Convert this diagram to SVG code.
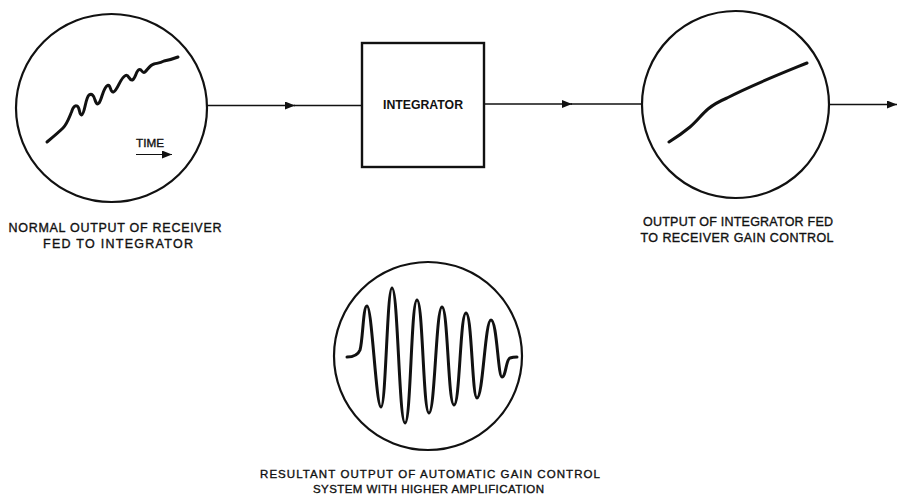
<svg xmlns="http://www.w3.org/2000/svg" width="898" height="497" viewBox="0 0 898 497">
<style>
.scope{fill:none;stroke:#111;stroke-width:2.2}
.trace{fill:none;stroke:#111;stroke-width:3;stroke-linecap:round;stroke-linejoin:round}
.conn{fill:none;stroke:#111;stroke-width:1.6}
.lbl{font-family:"Liberation Sans",Arial,sans-serif;font-size:12.5px;fill:#111;stroke:#111;stroke-width:0.35;text-anchor:middle}
.box{fill:none;stroke:#111;stroke-width:2.4}
</style>
<defs>
<marker id="ah" viewBox="0 0 10 8" refX="10" refY="4" markerWidth="10" markerHeight="8" markerUnits="userSpaceOnUse" orient="auto">
<path d="M0,0 L10,4 L0,8 Z" fill="#111"/>
</marker>
</defs>
<rect width="898" height="497" fill="#fff"/>
<g id="connectors">
<path class="conn" d="M207,105.5 L295,105.5" marker-end="url(#ah)"/>
<path class="conn" d="M294,105.5 L362,105.5"/>
<path class="conn" d="M484,104 L572,104" marker-end="url(#ah)"/>
<path class="conn" d="M571,104 L642,104"/>
<path class="conn" d="M829,104.5 L897,104.5" marker-end="url(#ah)"/>
</g>
<g id="scope-normal">
<ellipse class="scope" cx="111.5" cy="108" rx="95.5" ry="94"/>
<path class="trace" d="M47,142 C53,137 59,132 63,128 C67,124 69,118 71.5,112 C73,107 75,105 77,106 C80,107 79,115 81.5,115 C85,114 85,99 89,95 C92,93 94,96 95,100 C96,103 97,105 99,103 C102,99 103,88 107.5,85.5 C111,84 110,93 113.5,92 C118,90 120,78 125.5,75.5 C129,74 129,81 132.5,80 C136,78 136,70 139.5,69.5 C142,69 142,74 145,72 C148,69 150,65 154,64 C158,63 160,63 164,61 C169,60 173,59 178,57"/>
<text class="lbl" x="150" y="147" textLength="28" lengthAdjust="spacingAndGlyphs" style="font-size:11px">TIME</text>
<path class="conn" style="stroke-width:1.2" d="M136,154.5 L172,154.5" marker-end="url(#ah)"/>
<text class="lbl" x="115" y="232" textLength="213" lengthAdjust="spacing">NORMAL OUTPUT OF RECEIVER</text>
<text class="lbl" x="118" y="248" textLength="150" lengthAdjust="spacing">FED TO INTEGRATOR</text>
</g>
<g id="integrator">
<rect class="box" x="362" y="43" width="122" height="124"/>
<text class="lbl" x="423" y="109" textLength="80" lengthAdjust="spacingAndGlyphs" style="font-weight:bold;font-size:12px;stroke-width:0">INTEGRATOR</text>
</g>
<g id="scope-integrated">
<ellipse class="scope" cx="735.5" cy="104.5" rx="93.5" ry="93.5"/>
<path class="trace" d="M669,142 C677,137 684,132 690,127 C697,121 702,114 708,109 C714,104 720,101 727,98 C752,85 780,74 807,63"/>
<text class="lbl" x="738" y="226" textLength="190" lengthAdjust="spacing">OUTPUT OF INTEGRATOR FED</text>
<text class="lbl" x="737" y="242" textLength="193" lengthAdjust="spacing">TO RECEIVER GAIN CONTROL</text>
</g>
<g id="scope-agc">
<ellipse class="scope" cx="428" cy="356" rx="94" ry="94"/>
<path class="trace" d="M347,357 C353,357 358,355 360,350 C363,340 363,306 367,306 C372,306 376,407 381,407 C386,407 387,288 392,288 C398,288 399,423 405,423 C411,423 411,300 417,300 C423,300 423,413 429,413 C435,413 436,307 442,307 C448,307 448,405 454,405 C460,405 460,313 466,313 C472,313 472,398 477,398 C483,398 485,320 491,320 C497,320 498,377 502,377 C506,377 506,359 510,358 C513,357 515,357 517,357"/>
<text class="lbl" x="430" y="478" textLength="340" lengthAdjust="spacing" style="font-size:11.5px">RESULTANT OUTPUT OF AUTOMATIC GAIN CONTROL</text>
<text class="lbl" x="428.5" y="493" textLength="231" lengthAdjust="spacing" style="font-size:11.5px">SYSTEM WITH HIGHER AMPLIFICATION</text>
</g>
</svg>
